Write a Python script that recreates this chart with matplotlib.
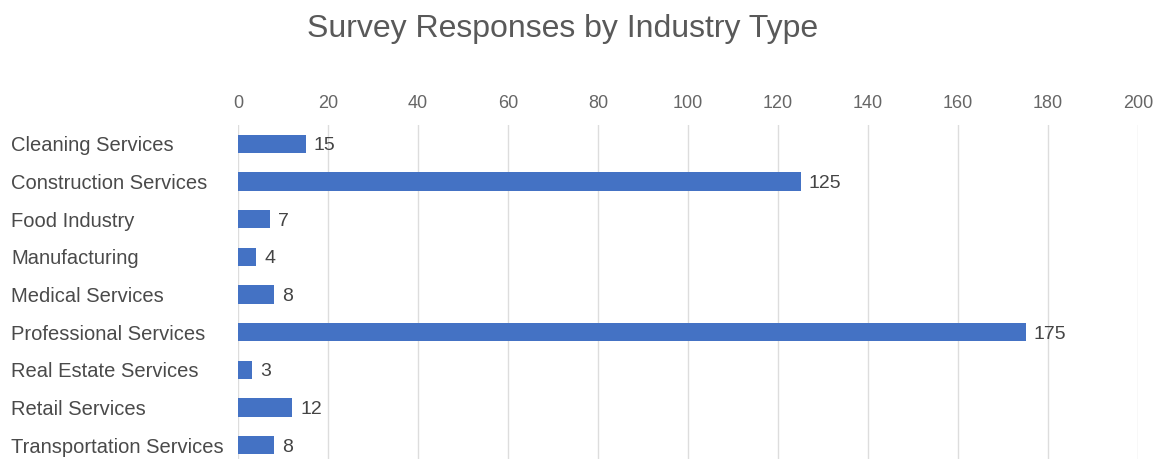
import matplotlib
matplotlib.use("Agg")
import matplotlib.pyplot as plt

categories = ["Cleaning Services", "Construction Services", "Food Industry", "Manufacturing",
              "Medical Services", "Professional Services", "Real Estate Services",
              "Retail Services", "Transportation Services"]
values = [15, 125, 7, 4, 8, 175, 3, 12, 8]
xticks = [0, 20, 40, 60, 80, 100, 120, 140, 160, 180, 200]
title = "Survey Responses by Industry Type"

plt.rcParams['font.family'] = ['Liberation Sans', 'DejaVu Sans']

fig = plt.figure(figsize=(11.59, 4.59), dpi=100)
ax = fig.add_axes([238/1159, -5/459, 900/1159, 339/459])

y = list(range(len(categories)))
ax.barh(y, values, height=0.48, color="#4472c4", zorder=3)
for yi, v in zip(y, values):
    ax.annotate(str(v), (v, yi), xytext=(6, 0), textcoords="offset points",
                va="center_baseline", ha="left", fontsize=14, color="#444444")

ax.set_xlim(0, 200)
ax.set_ylim(len(categories) - 0.5, -0.5)
ax.set_xticks(xticks)
ax.xaxis.tick_top()
ax.tick_params(axis="x", length=0, pad=9.5, labelsize=13, labelcolor="#666666")
ax.set_yticks(y)
ax.set_yticklabels(categories)
ax.tick_params(axis="y", length=0, pad=227 * 0.72, labelsize=14.5, labelcolor="#4a4a4a")
for lab in ax.get_yticklabels():
    lab.set_ha("left")
ax.grid(axis="x", color="#dddddd", linewidth=1, zorder=0)
for s in ax.spines.values():
    s.set_visible(False)

fig.text(563/1159, 1 - 37/459, title, ha="center", va="baseline", fontsize=23,
         color="#595959")

fig.savefig("out.png", dpi=100)
